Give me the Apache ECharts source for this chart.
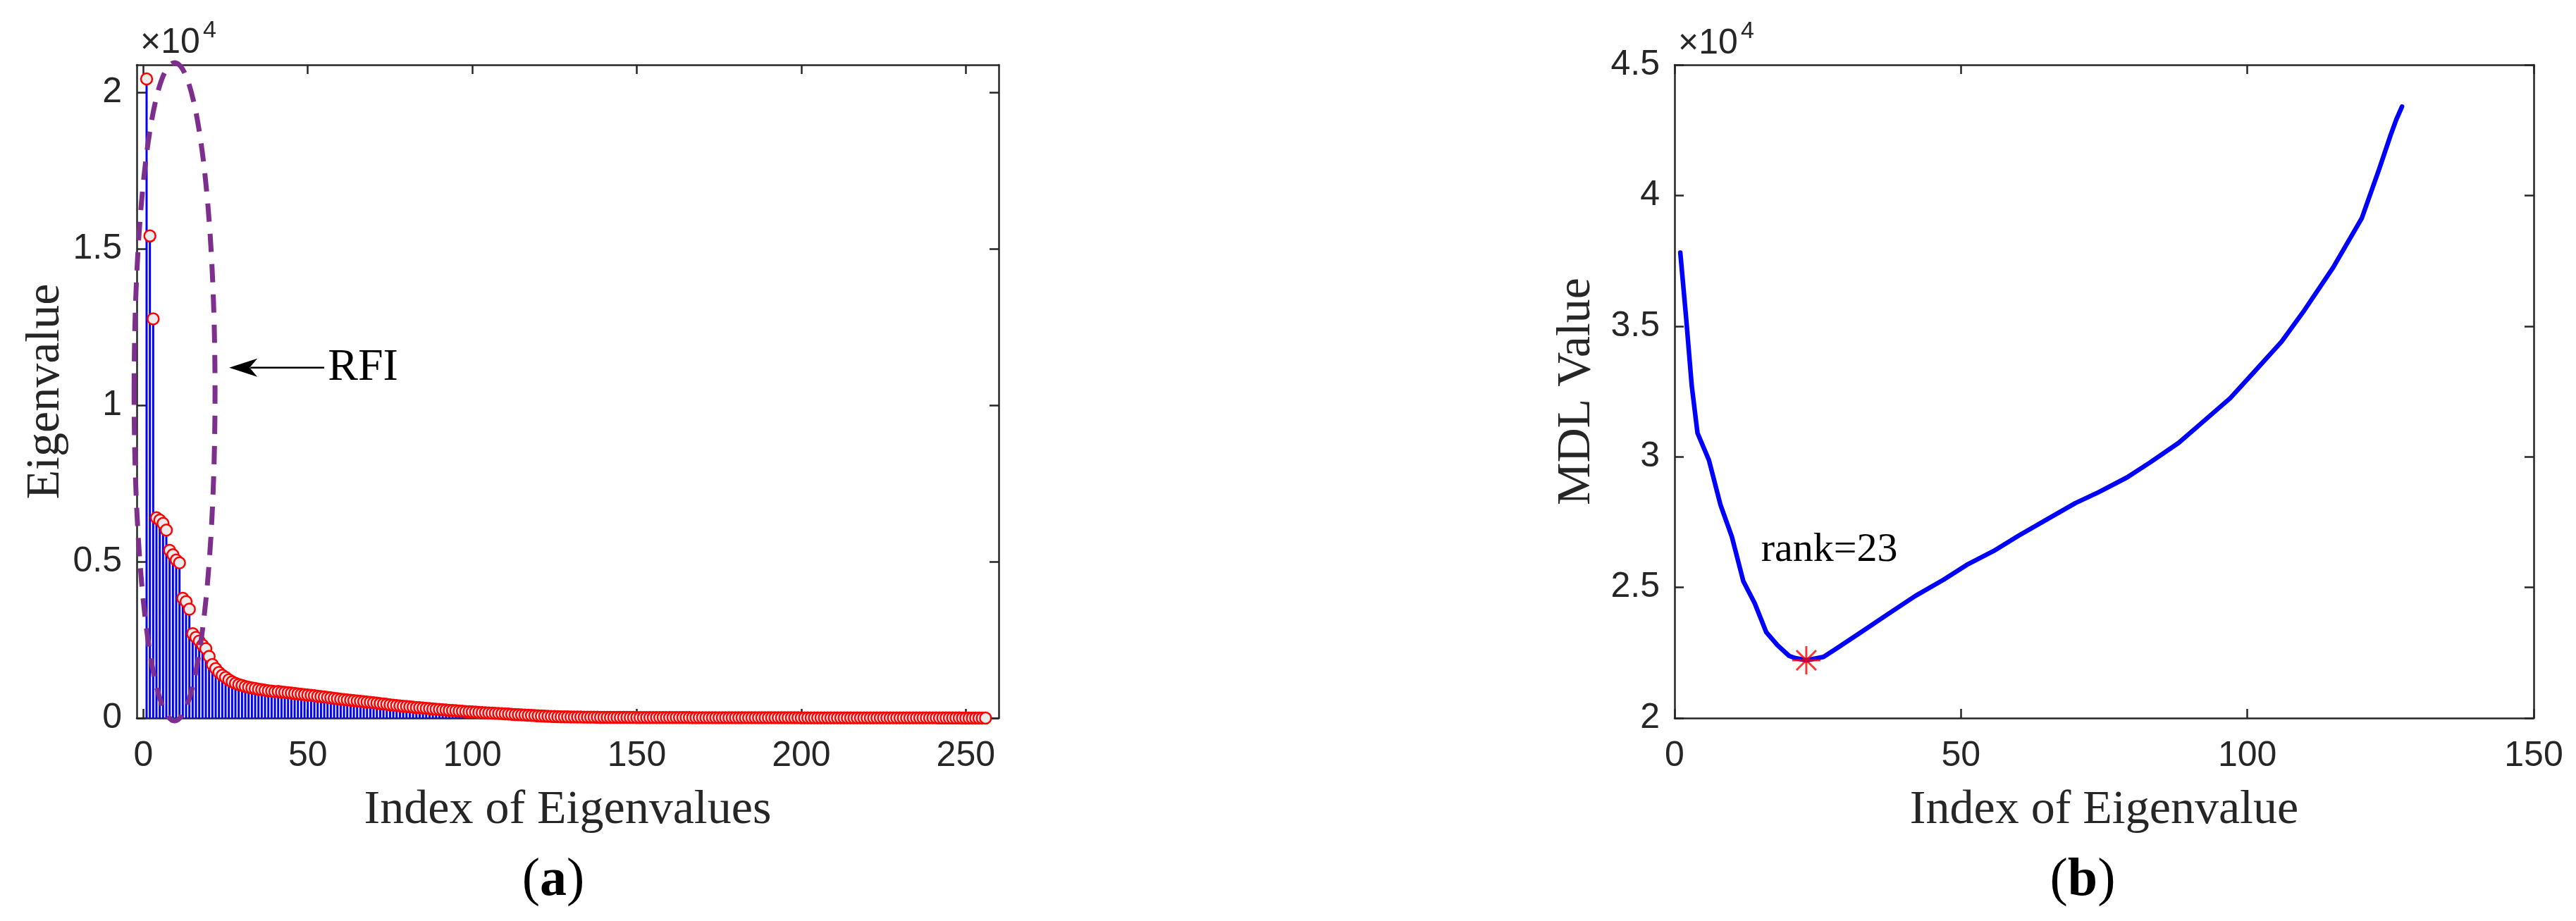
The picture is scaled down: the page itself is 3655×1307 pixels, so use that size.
<!DOCTYPE html>
<html><head><meta charset="utf-8">
<script src="https://cdn.jsdelivr.net/npm/echarts@6/dist/echarts.min.js"></script>
<style>html,body{margin:0;padding:0;background:#fff}#c{width:3655px;height:1307px}</style>
</head><body><div id="c"></div>
<script>
// ---------- DATA ----------
// Panel (a): eigenvalues, index 1..256
const eigenvalues = [
  20430, 15410, 12760, 6400, 6330, 6220, 6010, 5360, 5220, 5050,
  4960, 3830, 3720, 3480, 2700, 2580, 2460, 2330, 2220, 1970,
  1710, 1580, 1460, 1370, 1300, 1220, 1160, 1110, 1070, 1040,
  1010, 985, 965, 945, 925, 905, 890, 875, 860, 845,
  848, 835, 822, 810, 798, 786, 774, 762, 751, 740,
  727, 714, 700, 687, 673, 659, 645, 631, 617, 604,
  590, 579, 568, 557, 546, 535, 524, 513, 502, 490,
  477, 464, 451, 438, 425, 412, 400, 390, 380, 370,
  360, 350, 340, 330, 320, 311, 302, 293, 284, 275,
  266, 258, 250, 242, 234, 226, 218, 210, 202, 195,
  189, 183, 177, 171, 165, 159, 153, 147, 141, 135,
  128, 121, 114, 108, 101, 95, 89, 83, 77, 71,
  65, 60, 56, 52, 48, 45, 42, 40, 37, 35,
  33, 32, 31, 30, 29, 28, 27, 26, 25, 25,
  24, 23, 23, 22, 22, 21, 21, 20, 20, 19,
  19, 19, 18, 18, 18, 17, 17, 17, 16, 16,
  16, 16, 15, 15, 15, 15, 14, 14, 14, 14,
  13, 13, 13, 13, 13, 12, 12, 12, 12, 12,
  11, 11, 11, 11, 11, 11, 10, 10, 10, 10,
  10, 10, 9, 9, 9, 9, 9, 9, 9, 8,
  8, 8, 8, 8, 8, 8, 8, 7, 7, 7,
  7, 7, 7, 7, 7, 6, 6, 6, 6, 6,
  6, 6, 6, 6, 5, 5, 5, 5, 5, 5,
  5, 5, 5, 4, 4, 4, 4, 4, 4, 4,
  4, 3, 3, 3, 3, 3, 3, 3, 2, 2,
  2, 2, 2, 2, 1, 1
];
// Panel (b): MDL value vs index of eigenvalue
const mdlIndex = [1, 2, 3, 4, 6, 8, 10, 12, 14, 16, 18, 20, 21, 23, 26, 28, 33, 37, 42, 47,
  51, 56, 60, 65, 70, 74, 79, 83, 88, 92, 97, 101, 106, 110, 115, 120, 123, 125, 126, 127];
const mdlValue = [37810, 35360, 32710, 30910, 29870, 28170, 26940, 25240, 24390, 23290,
  22780, 22380, 22300, 22210, 22340, 22620, 23350, 23940, 24670, 25300,
  25860, 26430, 26970, 27600, 28230, 28640, 29210, 29780, 30530, 31290,
  32240, 33200, 34410, 35620, 37250, 39140, 41000, 42300, 42900, 43400];
const rankPoint = [23, 22210];

const xTicksA = [0, 50, 100, 150, 200, 250];
const yTicksA = [0, 5000, 10000, 15000, 20000];
const xTicksB = [0, 50, 100, 150];
const yTicksB = [20000, 25000, 30000, 35000, 40000, 45000];

// ---------- STYLE ----------
const AX = '#262626';
const SANS = 'Liberation Sans';
const SERIF = 'Liberation Serif';
const gridA = {left: 194, top: 92, width: 1223, height: 927};
const gridB = {left: 2376, top: 92, width: 1219, height: 927};

function fmt(v) { return String(+(v / 10000).toFixed(2)); }

function xAxes(gi, min, max, ticks, name, nameGap) {
  const base = {
    type: 'value', gridIndex: gi, min: min, max: max,
    splitLine: {show: false},
    axisLine: {show: true, onZero: false, lineStyle: {color: AX, width: 2.5}},
    axisTick: {show: true, inside: true, length: 13, customValues: ticks, lineStyle: {color: AX, width: 2.5}}
  };
  return [
    Object.assign({}, base, {
      position: 'bottom',
      name: name, nameLocation: 'middle', nameGap: nameGap, nameMoveOverlap: false,
      nameTextStyle: {fontFamily: SERIF, fontSize: 68, color: AX},
      axisLabel: {show: true, customValues: ticks, margin: 29, fontFamily: SANS, fontSize: 50, color: AX,
        formatter: v => String(v)}
    }),
    Object.assign({}, base, {position: 'top', axisLabel: {show: false}})
  ];
}
function yAxes(gi, min, max, ticks, name, nameGap) {
  const base = {
    type: 'value', gridIndex: gi, min: min, max: max,
    splitLine: {show: false},
    axisLine: {show: true, onZero: false, lineStyle: {color: AX, width: 2.5}},
    axisTick: {show: true, inside: true, length: 13, customValues: ticks, lineStyle: {color: AX, width: 2.5}}
  };
  return [
    Object.assign({}, base, {
      position: 'left',
      name: name, nameLocation: 'middle', nameGap: nameGap, nameMoveOverlap: false,
      nameTextStyle: {fontFamily: SERIF, fontSize: 68, color: AX},
      axisLabel: {show: true, customValues: ticks, margin: 21, fontFamily: SANS, fontSize: 50, color: AX,
        formatter: fmt}
    }),
    Object.assign({}, base, {position: 'right', axisLabel: {show: false}})
  ];
}

const chart = echarts.init(document.getElementById('c'), null, {renderer: 'canvas'});

const eigPairs = eigenvalues.map((v, i) => [i + 1, v]);
const mdlPairs = mdlIndex.map((x, i) => [x, mdlValue[i]]);

chart.setOption({
  animation: false,
  backgroundColor: '#ffffff',
  grid: [
    Object.assign({outerBoundsMode: 'none', containLabel: false}, gridA),
    Object.assign({outerBoundsMode: 'none', containLabel: false}, gridB)
  ],
  xAxis: [].concat(
    xAxes(0, -2, 260, xTicksA, 'Index of Eigenvalues', 97),
    xAxes(1, 0, 150, xTicksB, 'Index of Eigenvalue', 97)
  ),
  yAxis: [].concat(
    yAxes(0, 0, 20880, yTicksA, 'Eigenvalue', 95),
    yAxes(1, 20000, 45000, yTicksB, 'MDL Value', 105)
  ),
  series: [
    {
      type: 'bar', xAxisIndex: 0, yAxisIndex: 0, data: eigPairs,
      barWidth: 3, itemStyle: {color: '#0000ff'}, silent: true, z: 2
    },
    {
      type: 'scatter', xAxisIndex: 0, yAxisIndex: 0, data: eigPairs,
      symbol: 'circle', symbolSize: 16, clip: false, silent: true, z: 3,
      itemStyle: {color: '#ebebeb', borderColor: '#ff0000', borderWidth: 2.5, opacity: 1}
    },
    {
      type: 'line', xAxisIndex: 2, yAxisIndex: 2, data: mdlPairs,
      showSymbol: false, symbol: 'none', smooth: false, silent: true, z: 2,
      lineStyle: {color: '#0000ff', width: 6.5, cap: 'round', join: 'round'}
    },
    {
      type: 'scatter', xAxisIndex: 2, yAxisIndex: 2, data: [rankPoint],
      symbol: 'path://M50,0L50,100M0,50L100,50M15,15L85,85M15,85L85,15',
      symbolSize: 40, clip: false, silent: true, z: 4,
      itemStyle: {color: 'rgba(0,0,0,0)', borderColor: '#ff0000', borderWidth: 3}
    }
  ]
});

// ---------- ANNOTATIONS (positioned through the axes) ----------
const ellipseA = {cx: 9.5, cy: 10430, rx: 12.3, ry: 10520};
const arrowA = {tipX: 26.1, tailX: 55, y: 11200, textX: 56.1};
const rankLabel = {x: 15.1, y: 26420, text: 'rank=23'};

const pA = p => chart.convertToPixel({gridIndex: 0}, p);
const pB = p => chart.convertToPixel({gridIndex: 1}, p);

const c = pA([ellipseA.cx, ellipseA.cy]);
const rxp = pA([ellipseA.cx + ellipseA.rx, ellipseA.cy])[0] - c[0];
const ryp = c[1] - pA([ellipseA.cx, ellipseA.cy + ellipseA.ry])[1];
const tip = pA([arrowA.tipX, arrowA.y]);
const tail = pA([arrowA.tailX, arrowA.y]);
const rfi = pA([arrowA.textX, arrowA.y]);
const rk = pB([rankLabel.x, rankLabel.y]);

chart.setOption({
  graphic: [
    {type: 'ellipse', z: 10, silent: true,
      shape: {cx: c[0], cy: c[1], rx: rxp, ry: ryp},
      style: {fill: 'none', stroke: '#7E2F8E', lineWidth: 7, lineDash: [26, 17]}},
    {type: 'line', z: 10, silent: true,
      shape: {x1: tip[0] + 30, y1: tip[1], x2: tail[0], y2: tail[1]},
      style: {stroke: '#000', lineWidth: 2.5}},
    {type: 'polygon', z: 10, silent: true,
      shape: {points: [[tip[0], tip[1]], [tip[0] + 40, tip[1] - 13], [tip[0] + 29, tip[1]], [tip[0] + 40, tip[1] + 13]]},
      style: {fill: '#000'}},
    {type: 'text', z: 10, silent: true, x: rfi[0], y: rfi[1],
      style: {text: 'RFI', fontFamily: SERIF, fontSize: 64, fill: '#000', align: 'left', verticalAlign: 'middle'}},
    {type: 'text', z: 10, silent: true, x: rk[0], y: rk[1],
      style: {text: rankLabel.text, fontFamily: SERIF, fontSize: 58, fill: '#000', align: 'left', verticalAlign: 'middle'}},
    // x10^4 multipliers
    {type: 'text', silent: true, x: gridA.left + 5, y: 61,
      style: {text: '×10', fontFamily: SANS, fontSize: 50, fill: AX, align: 'left', verticalAlign: 'middle'}},
    {type: 'text', silent: true, x: gridA.left + 94, y: 44,
      style: {text: '4', fontFamily: SANS, fontSize: 34, fill: AX, align: 'left', verticalAlign: 'middle'}},
    {type: 'text', silent: true, x: gridB.left + 5, y: 62,
      style: {text: '×10', fontFamily: SANS, fontSize: 50, fill: AX, align: 'left', verticalAlign: 'middle'}},
    {type: 'text', silent: true, x: gridB.left + 94, y: 45,
      style: {text: '4', fontFamily: SANS, fontSize: 34, fill: AX, align: 'left', verticalAlign: 'middle'}},
    // panel labels
    {type: 'text', silent: true, x: 785, y: 1250,
      style: {text: '({b|a})', fontFamily: SERIF, fontSize: 76, fill: '#000', align: 'center', verticalAlign: 'middle',
        rich: {b: {fontFamily: SERIF, fontSize: 76, fontWeight: 'bold', fill: '#000'}}}},
    {type: 'text', silent: true, x: 2955, y: 1250,
      style: {text: '({b|b})', fontFamily: SERIF, fontSize: 76, fill: '#000', align: 'center', verticalAlign: 'middle',
        rich: {b: {fontFamily: SERIF, fontSize: 76, fontWeight: 'bold', fill: '#000'}}}}
  ]
});
</script>
</body></html>
